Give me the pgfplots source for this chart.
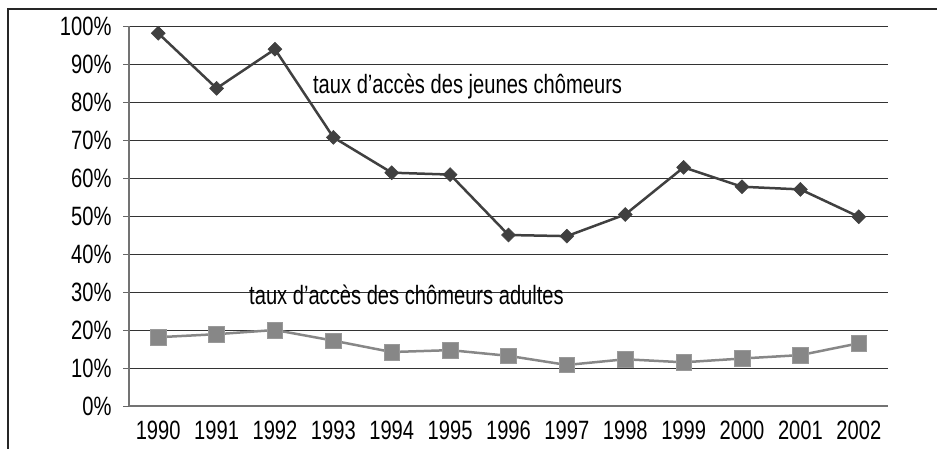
\documentclass[border=0pt]{standalone}
\usepackage{pgfplots}
\pgfplotsset{compat=1.18}
\usepackage{fontspec}
\setmainfont{Liberation Sans}[FakeStretch=0.76]
\begin{document}
\begin{tikzpicture}[x=1pt,y=1pt]
\useasboundingbox (0,0) rectangle (937,448);
\draw[line width=1.3pt, black!85] (8,-5) -- (8,439) -- (945,439);
\begin{axis}[
  at={(129pt,42pt)}, anchor=south west,
  width=759pt, height=380pt, scale only axis,
  xmin=-0.5, xmax=12.5, ymin=0, ymax=100,
  axis lines*=left,
  axis line style={-, draw=black!55, line width=1.2pt},
  xtick={0,...,12},
  xticklabels={1990,1991,1992,1993,1994,1995,1996,1997,1998,1999,2000,2001,2002},
  x tick style={draw=none},
  extra x ticks={-0.5,0.5,...,12.5},
  extra x tick labels={},
  extra x tick style={major tick length=6pt, tick align=outside, tick style={draw=black!60, line width=1pt}},
  ytick={0,10,...,100},
  yticklabel={\pgfmathprintnumber{\tick}\%},
  y tick style={draw=black!60, line width=1pt},
  tick align=outside, major tick length=6pt,
  ymajorgrids, grid style={black!80, line width=1pt},
  /pgf/number format/assume math mode=true,
  tick label style={font=\fontsize{26.5}{30}\selectfont},
  yticklabel style={xshift=-8pt},
  xticklabel style={yshift=-5pt},
  clip=false,
]
\addplot[color=black!75, line width=2.5pt, mark=square*, mark size=4.9pt,
  mark options={rotate=45, fill=black!75, draw=black!75, line width=0.6pt}]
coordinates {(0,98.1) (1,83.6) (2,93.9) (3,70.7) (4,61.4) (5,60.9) (6,45.0) (7,44.7) (8,50.4) (9,62.8) (10,57.7) (11,57.0) (12,49.8)};
\addplot[color=black!47, line width=2.5pt, mark=square*, mark size=7.8pt,
  mark options={fill=black!47, draw=black!40, line width=0.6pt}]
coordinates {(0,18.1) (1,18.9) (2,20.0) (3,17.2) (4,14.2) (5,14.7) (6,13.2) (7,10.8) (8,12.3) (9,11.5) (10,12.5) (11,13.4) (12,16.5)};
\node[anchor=west, inner sep=0pt, font=\fontsize{26.5}{30}\selectfont] at (axis cs:2.65,84.2) {taux d’accès des jeunes chômeurs};
\node[anchor=west, inner sep=0pt, font=\fontsize{26.5}{30}\selectfont] at (axis cs:1.556,29.2) {taux d’accès des chômeurs adultes};
\end{axis}
\end{tikzpicture}
\end{document}
